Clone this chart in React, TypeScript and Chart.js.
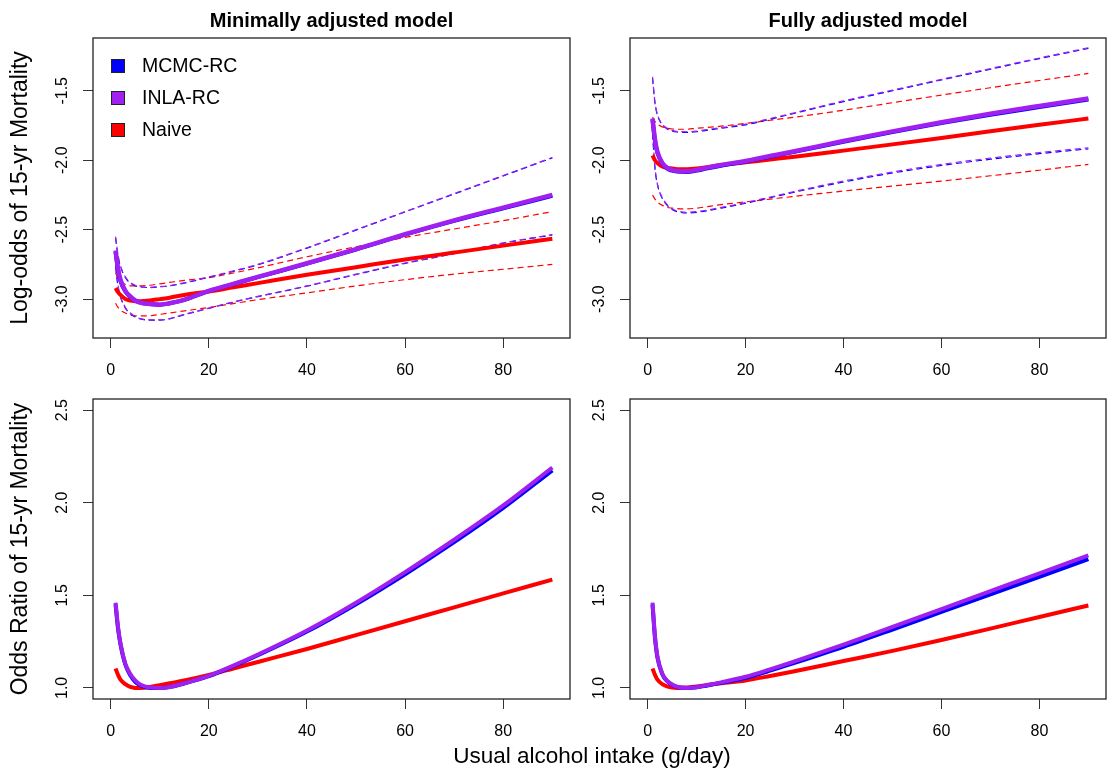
import { useEffect, useRef } from 'react';
import Chart from 'chart.js/auto';

const FONT = '"Liberation Sans", Arial, Helvetica, sans-serif';

// x grid of the fitted curves (g/day)
const X = [1, 1.5, 2, 3, 4, 5, 6, 8, 10, 12, 15, 20, 25, 30, 40, 50, 60, 70, 80, 90];
const X_TICKS = [0, 20, 40, 60, 80];
const X_TICK_LABELS = ['0', '20', '40', '60', '80'];
const LOG_TICKS = [-3.0, -2.5, -2.0, -1.5];
const LOG_TICK_LABELS = ['-3.0', '-2.5', '-2.0', '-1.5'];
const OR_TICKS = [1.0, 1.5, 2.0, 2.5];
const OR_TICK_LABELS = ['1.0', '1.5', '2.0', '2.5'];

// Minimally adjusted model, log-odds
const minMcmcEst = [-2.66, -2.79, -2.87, -2.945, -2.985, -3.01, -3.025, -3.035, -3.04, -3.03, -3.005, -2.942, -2.892, -2.842, -2.745, -2.643, -2.536, -2.437, -2.346, -2.256];
const minInlaEst = [-2.65, -2.78, -2.86, -2.94, -2.98, -3.01, -3.025, -3.035, -3.04, -3.03, -3.005, -2.94, -2.89, -2.84, -2.742, -2.64, -2.533, -2.433, -2.341, -2.25];
const minNaiveEst = [-2.92, -2.95, -2.97, -3.0, -3.01, -3.015, -3.015, -3.01, -3.0, -2.99, -2.97, -2.945, -2.915, -2.885, -2.825, -2.77, -2.715, -2.665, -2.615, -2.565];
const minMcmcUp = [-2.56, -2.69, -2.765, -2.845, -2.885, -2.905, -2.912, -2.917, -2.912, -2.905, -2.885, -2.843, -2.8, -2.753, -2.633, -2.503, -2.372, -2.243, -2.113, -1.983];
const minInlaUp = [-2.55, -2.68, -2.76, -2.84, -2.88, -2.9, -2.91, -2.915, -2.91, -2.903, -2.882, -2.84, -2.797, -2.75, -2.63, -2.5, -2.37, -2.24, -2.11, -1.98];
const minMcmcLo = [-2.77, -2.91, -2.985, -3.065, -3.105, -3.128, -3.142, -3.152, -3.152, -3.142, -3.112, -3.067, -3.022, -2.982, -2.907, -2.823, -2.743, -2.673, -2.598, -2.538];
const minInlaLo = [-2.76, -2.9, -2.98, -3.06, -3.1, -3.125, -3.14, -3.15, -3.15, -3.14, -3.11, -3.065, -3.02, -2.98, -2.905, -2.82, -2.74, -2.67, -2.595, -2.535];
const minNaiveUp = [-2.81, -2.85, -2.87, -2.895, -2.905, -2.905, -2.905, -2.9, -2.89, -2.88, -2.865, -2.845, -2.812, -2.775, -2.695, -2.623, -2.556, -2.495, -2.435, -2.37];
const minNaiveLo = [-3.03, -3.06, -3.08, -3.1, -3.115, -3.12, -3.12, -3.12, -3.11, -3.1, -3.085, -3.06, -3.032, -3.004, -2.955, -2.905, -2.86, -2.82, -2.785, -2.75];

// Fully adjusted model, log-odds
const fullMcmcEst = [-1.71, -1.86, -1.945, -2.025, -2.06, -2.075, -2.082, -2.085, -2.075, -2.06, -2.04, -2.01, -1.975, -1.94, -1.867, -1.797, -1.732, -1.672, -1.617, -1.563];
const fullInlaEst = [-1.7, -1.85, -1.94, -2.02, -2.055, -2.07, -2.078, -2.08, -2.07, -2.055, -2.035, -2.005, -1.97, -1.935, -1.862, -1.792, -1.726, -1.665, -1.609, -1.555];
const fullNaiveEst = [-1.965, -2.0, -2.02, -2.045, -2.055, -2.06, -2.065, -2.065, -2.06, -2.05, -2.035, -2.015, -1.995, -1.975, -1.931, -1.886, -1.84, -1.792, -1.745, -1.7];
const fullMcmcUp = [-1.41, -1.59, -1.675, -1.745, -1.775, -1.79, -1.797, -1.8, -1.795, -1.785, -1.77, -1.745, -1.705, -1.662, -1.578, -1.5, -1.422, -1.345, -1.268, -1.195];
const fullInlaUp = [-1.4, -1.58, -1.67, -1.74, -1.77, -1.785, -1.793, -1.795, -1.79, -1.78, -1.765, -1.74, -1.7, -1.658, -1.573, -1.495, -1.418, -1.34, -1.264, -1.19];
const fullMcmcLo = [-1.81, -2.06, -2.175, -2.275, -2.325, -2.355, -2.37, -2.38, -2.375, -2.365, -2.345, -2.31, -2.27, -2.23, -2.157, -2.092, -2.038, -1.993, -1.953, -1.918];
const fullInlaLo = [-1.8, -2.05, -2.17, -2.27, -2.32, -2.35, -2.365, -2.375, -2.37, -2.36, -2.34, -2.305, -2.265, -2.225, -2.15, -2.085, -2.03, -1.985, -1.945, -1.91];
const fullNaiveUp = [-1.69, -1.72, -1.74, -1.76, -1.77, -1.775, -1.777, -1.777, -1.77, -1.765, -1.755, -1.735, -1.712, -1.69, -1.64, -1.586, -1.531, -1.478, -1.426, -1.375];
const fullNaiveLo = [-2.25, -2.28, -2.3, -2.325, -2.34, -2.345, -2.348, -2.35, -2.345, -2.335, -2.32, -2.3, -2.28, -2.26, -2.222, -2.186, -2.15, -2.112, -2.072, -2.03];

// Odds ratios
const minMcmcOR = [1.45, 1.32, 1.235, 1.125, 1.068, 1.033, 1.014, 1.0, 1.0, 1.005, 1.024, 1.063, 1.117, 1.176, 1.304, 1.452, 1.614, 1.787, 1.972, 2.175];
const minInlaOR = [1.46, 1.33, 1.24, 1.13, 1.075, 1.04, 1.018, 1.002, 1.0, 1.005, 1.025, 1.065, 1.12, 1.18, 1.31, 1.46, 1.625, 1.8, 1.985, 2.19];
const minNaiveOR = [1.105, 1.07, 1.045, 1.02, 1.005, 1.0, 1.0, 1.005, 1.015, 1.025, 1.04, 1.07, 1.105, 1.14, 1.21, 1.285, 1.36, 1.435, 1.51, 1.585];
const fullMcmcOR = [1.45, 1.27, 1.165, 1.074, 1.036, 1.016, 1.005, 1.0, 1.003, 1.012, 1.027, 1.055, 1.093, 1.135, 1.222, 1.315, 1.41, 1.505, 1.6, 1.695];
const fullInlaOR = [1.46, 1.28, 1.17, 1.077, 1.038, 1.018, 1.006, 1.0, 1.004, 1.014, 1.03, 1.06, 1.1, 1.143, 1.234, 1.329, 1.425, 1.522, 1.619, 1.715];
const fullNaiveOR = [1.105, 1.07, 1.045, 1.02, 1.008, 1.002, 1.0, 1.002, 1.008, 1.015, 1.025, 1.04, 1.064, 1.09, 1.145, 1.2, 1.259, 1.32, 1.383, 1.445];

const LEGEND_LABELS = ['MCMC-RC', 'INLA-RC', 'Naive'];
const BLUE = '#0000FF';
const PURPLE = '#A020F0';
const RED = '#FF0000';
const LEGEND_COLORS = [BLUE, PURPLE, RED];

const pts = (ys: number[]) => X.map((x, i) => ({ x, y: ys[i] }));

function solid(label: string, ys: number[], color: string, order: number, width = 4) {
  return {
    label, data: pts(ys), borderColor: color, backgroundColor: color,
    borderWidth: width, pointRadius: 0, fill: false,
    cubicInterpolationMode: 'monotone', order,
  };
}
function dashed(label: string, ys: number[], color: string, order: number) {
  return {
    label, data: pts(ys), borderColor: color, backgroundColor: color,
    borderWidth: 1.2, borderDash: [6, 4], pointRadius: 0, fill: false,
    cubicInterpolationMode: 'monotone', order,
  };
}

const boxPlugin = {
  id: 'rbox',
  afterDraw(chart: any) {
    const { ctx, chartArea: a } = chart;
    const o = chart.options.plugins.rbox || {};
    ctx.save();
    ctx.strokeStyle = '#222';
    ctx.lineWidth = 1.3;
    ctx.strokeRect(a.left, a.top, a.right - a.left, a.bottom - a.top);
    const ys = chart.scales.y;
    ctx.fillStyle = '#000';
    ctx.font = `16px ${FONT}`;
    ctx.textAlign = 'center';
    ctx.textBaseline = 'middle';
    (o.ticks || []).forEach((v: number, i: number) => {
      const py = ys.getPixelForValue(v);
      ctx.save();
      ctx.translate(a.left - 30, py);
      ctx.rotate(-Math.PI / 2);
      ctx.fillText(o.labels[i], 0, 0);
      ctx.restore();
    });
    if (o.legend) {
      ctx.font = `19.5px ${FONT}`;
      ctx.textAlign = 'left';
      LEGEND_LABELS.forEach((lab, i) => {
        const cy = a.top + 28 + i * 32;
        ctx.fillStyle = LEGEND_COLORS[i];
        ctx.fillRect(a.left + 18, cy - 7, 14, 14);
        ctx.strokeStyle = '#222';
        ctx.lineWidth = 1;
        ctx.strokeRect(a.left + 18.5, cy - 6.5, 13, 13);
        ctx.fillStyle = '#000';
        ctx.fillText(lab, a.left + 49, cy + 1);
      });
    }
    ctx.restore();
  },
};

type PanelProps = {
  left: number; top: number; w: number; h: number;
  area: { l: number; t: number; r: number; b: number };
  title?: string; yTitle?: string;
  yMin: number; yMax: number; yTicks: number[]; yLabels: string[];
  datasets: any[]; legend?: boolean;
};

function Panel(p: PanelProps) {
  const ref = useRef<HTMLCanvasElement>(null);
  useEffect(() => {
    if (!ref.current) return;
    const titleSize = 20;
    const titleLine = titleSize * 1.2;
    const chart = new Chart(ref.current, {
      type: 'line',
      data: { datasets: p.datasets },
      options: {
        animation: false,
        responsive: false,
        maintainAspectRatio: false,
        layout: { padding: { left: 0, right: p.w - p.area.r, top: p.title ? 0 : p.area.t, bottom: 0 } },
        plugins: {
          legend: { display: false },
          tooltip: { enabled: false },
          title: p.title
            ? {
                display: true, text: p.title, fullSize: false, color: '#000',
                font: { family: FONT, size: titleSize, weight: 'bold', lineHeight: 1.2 },
                padding: { top: 9, bottom: p.area.t - 9 - titleLine },
              }
            : { display: false },
          rbox: { ticks: p.yTicks, labels: p.yLabels, legend: !!p.legend },
        } as any,
        scales: {
          x: {
            type: 'linear', min: -3.6, max: 93.6,
            afterBuildTicks: (s: any) => { s.ticks = X_TICKS.map((v) => ({ value: v })); },
            afterFit: (s: any) => { s.height = p.h - p.area.b; },
            ticks: {
              font: { family: FONT, size: 16 }, color: '#000', padding: 13,
              maxRotation: 0, autoSkip: false,
              callback: (v: any) => X_TICK_LABELS[X_TICKS.indexOf(Number(v))] ?? '',
            },
            grid: { drawOnChartArea: false, drawTicks: true, tickLength: 10, color: '#333', lineWidth: 1 },
            border: { display: false },
          },
          y: {
            type: 'linear', min: p.yMin, max: p.yMax,
            afterBuildTicks: (s: any) => { s.ticks = p.yTicks.map((v) => ({ value: v })); },
            afterFit: (s: any) => { s.width = p.area.l; },
            ticks: { display: false },
            grid: { drawOnChartArea: false, drawTicks: true, tickLength: 10, color: '#333', lineWidth: 1 },
            border: { display: false },
            title: p.yTitle
              ? { display: true, text: p.yTitle, color: '#000', font: { family: FONT, size: 23, lineHeight: 1.2 }, padding: { top: 7.2, bottom: 0 } }
              : { display: false },
          },
        } as any,
      },
      plugins: [boxPlugin],
    } as any);
    return () => chart.destroy();
  }, []);
  return (
    <div style={{ position: 'absolute', left: p.left, top: p.top, width: p.w, height: p.h }}>
      <canvas ref={ref} width={p.w} height={p.h} style={{ width: p.w, height: p.h, display: 'block' }} />
    </div>
  );
}

function logSets(mEst: number[], iEst: number[], nEst: number[], mUp: number[], iUp: number[], mLo: number[], iLo: number[], nUp: number[], nLo: number[]) {
  return [
    solid('INLA-RC', iEst, PURPLE, 1, 4.5),
    solid('MCMC-RC', mEst, BLUE, 2, 4),
    solid('Naive', nEst, RED, 3, 4),
    dashed('INLA-RC upper', iUp, PURPLE, 4),
    dashed('INLA-RC lower', iLo, PURPLE, 4),
    dashed('MCMC-RC upper', mUp, BLUE, 5),
    dashed('MCMC-RC lower', mLo, BLUE, 5),
    dashed('Naive upper', nUp, RED, 6),
    dashed('Naive lower', nLo, RED, 6),
  ];
}
function orSets(m: number[], i: number[], n: number[]) {
  return [
    solid('INLA-RC', i, PURPLE, 1, 4),
    solid('MCMC-RC', m, BLUE, 2, 4),
    solid('Naive', n, RED, 3, 4),
  ];
}

export default function App() {
  const LOG_MIN = -3.28, LOG_MAX = -1.12, OR_MIN = 0.94, OR_MAX = 2.56;
  return (
    <div style={{ position: 'absolute', left: 0, top: 0, width: 1107, height: 771, background: '#fff', overflow: 'hidden' }}>
      <Panel left={0} top={0} w={575} h={392} area={{ l: 93, t: 38, r: 570, b: 338 }}
        title="Minimally adjusted model" yTitle="Log-odds of 15-yr Mortality"
        yMin={LOG_MIN} yMax={LOG_MAX} yTicks={LOG_TICKS} yLabels={LOG_TICK_LABELS} legend
        datasets={logSets(minMcmcEst, minInlaEst, minNaiveEst, minMcmcUp, minInlaUp, minMcmcLo, minInlaLo, minNaiveUp, minNaiveLo)} />
      <Panel left={575} top={0} w={532} h={392} area={{ l: 55, t: 38, r: 531, b: 338 }}
        title="Fully adjusted model"
        yMin={LOG_MIN} yMax={LOG_MAX} yTicks={LOG_TICKS} yLabels={LOG_TICK_LABELS}
        datasets={logSets(fullMcmcEst, fullInlaEst, fullNaiveEst, fullMcmcUp, fullInlaUp, fullMcmcLo, fullInlaLo, fullNaiveUp, fullNaiveLo)} />
      <Panel left={0} top={392} w={575} h={379} area={{ l: 93, t: 7, r: 570, b: 307 }}
        yTitle="Odds Ratio of 15-yr Mortality"
        yMin={OR_MIN} yMax={OR_MAX} yTicks={OR_TICKS} yLabels={OR_TICK_LABELS}
        datasets={orSets(minMcmcOR, minInlaOR, minNaiveOR)} />
      <Panel left={575} top={392} w={532} h={379} area={{ l: 55, t: 7, r: 531, b: 307 }}
        yMin={OR_MIN} yMax={OR_MAX} yTicks={OR_TICKS} yLabels={OR_TICK_LABELS}
        datasets={orSets(fullMcmcOR, fullInlaOR, fullNaiveOR)} />
      <div style={{ position: 'absolute', left: 292, top: 743.7, width: 600, textAlign: 'center', fontFamily: FONT, fontSize: 22.5, lineHeight: '23px', color: '#000', whiteSpace: 'nowrap' }}>
        Usual alcohol intake (g/day)
      </div>
    </div>
  );
}
